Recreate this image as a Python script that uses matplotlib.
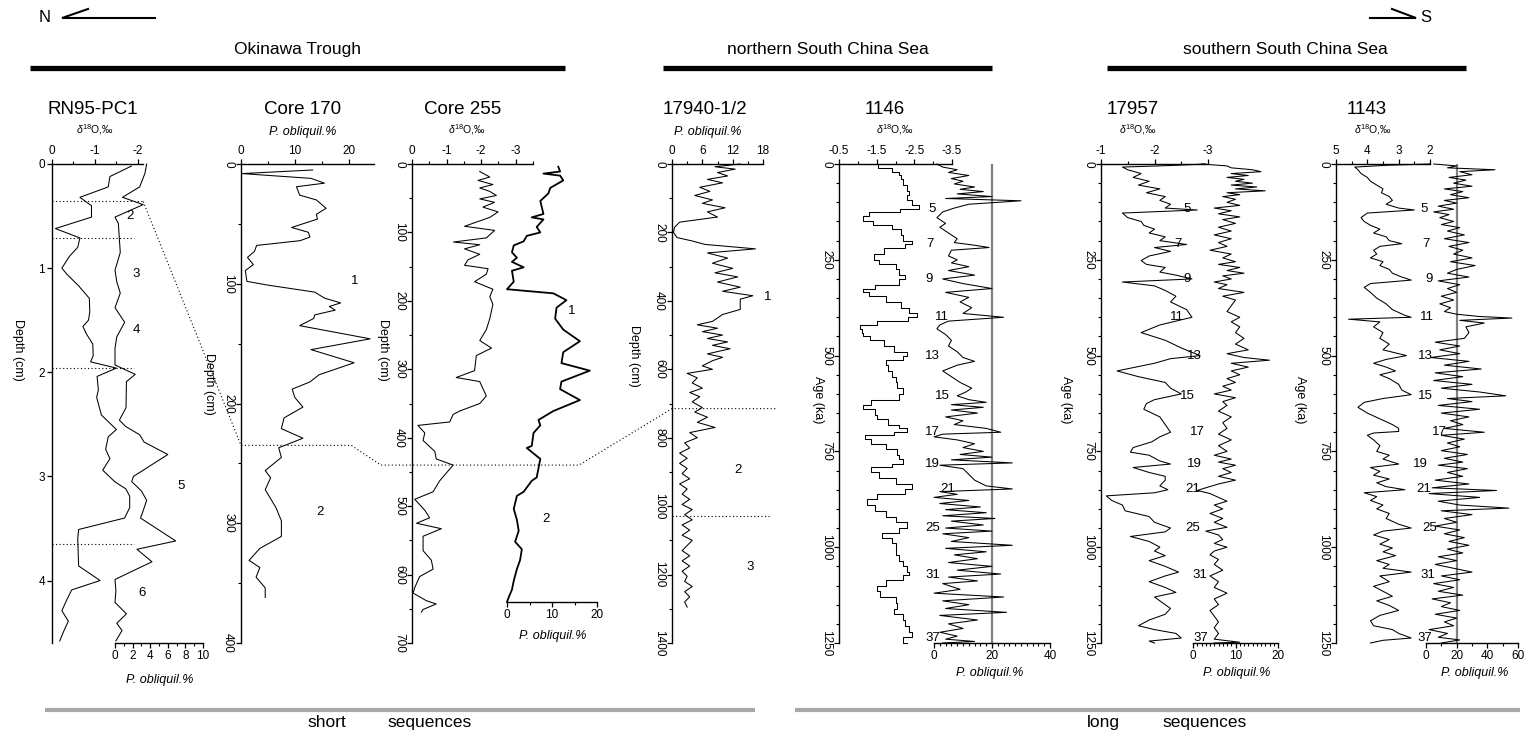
import matplotlib
matplotlib.use("Agg")
import matplotlib.pyplot as plt
from matplotlib import font_manager
from matplotlib.lines import Line2D

names = {f.name for f in font_manager.fontManager.ttflist}
MAIN = "Liberation Sans" if "Liberation Sans" in names else "DejaVu Sans"
NARROW = "Liberation Sans Narrow" if "Liberation Sans Narrow" in names else MAIN
plt.rcParams["font.family"] = [MAIN, "DejaVu Sans"]
plt.rcParams["axes.unicode_minus"] = False
plt.rcParams["mathtext.fontset"] = "custom"
plt.rcParams["mathtext.rm"] = MAIN
plt.rcParams["mathtext.it"] = MAIN + ":italic"

# ---------------- data ----------------
# RN95-PC1
rn95_d18o_depth = [0.02,0.12,0.22,0.32,0.40,0.51,0.62,0.71,0.80,0.89,1.00,1.06,1.17,1.29,1.42,1.50,1.56,1.63,1.73,1.84,1.90,1.96,2.04,2.17,2.24,2.41,2.55,2.62,2.74,2.83,2.94,3.05,3.12,3.19,3.30,3.40,3.51,3.60,3.86,4.00,4.09,4.18,4.29,4.39,4.49,4.58]
rn95_d18o = [-1.85,-1.35,-1.31,-0.65,-0.92,-0.92,-0.08,-0.65,-0.6,-0.4,-0.23,-0.35,-0.62,-0.87,-0.88,-0.85,-0.72,-0.8,-0.95,-0.96,-0.9,-1.5,-1.05,-1.08,-1.04,-1.15,-1.5,-1.31,-1.25,-1.35,-1.18,-1.46,-1.72,-1.81,-1.81,-1.69,-0.62,-0.6,-0.62,-1.12,-0.46,-0.35,-0.23,-0.38,-0.27,-0.18]
rn95_po_depth = [0.0,0.09,0.22,0.32,0.39,0.51,0.57,0.85,1.02,1.13,1.24,1.38,1.52,1.66,1.77,1.93,2.02,2.09,2.34,2.46,2.52,2.60,2.67,2.79,3.00,3.05,3.14,3.23,3.33,3.40,3.62,3.70,3.82,3.99,4.10,4.21,4.32,4.41,4.48,4.58]
rn95_po = [3.6,3.4,2.8,0.85,3.2,0.0,0.38,0.6,0.0,0.2,0.6,0.0,1.1,0.2,0.0,0.0,2.3,1.3,1.25,0.5,1.2,2.8,3.3,6.0,2.1,1.9,3.0,3.6,3.2,2.9,6.9,2.5,4.2,0.0,0.1,0.0,1.3,0.2,0.8,0.1]

# Core 170
c170_depth = [5,8,12,16,19,26,30,37,42,46,53,57,61,64,68,73,78,84,89,98,101,107,112,116,119,122,126,129,135,146,155,166,176,182,188,195,203,212,221,229,237,245,256,262,272,287,298,311,321,331,337,345,354,362]
c170_po = [13.3,0.2,13,15.5,10.3,10.9,14,15.8,14,14.2,9.4,12.5,12.8,11,2.9,2.5,1.2,2.3,0.8,1.1,4.8,13.7,15.5,18.5,16.4,17.5,13.7,13.5,10.9,24,13,21,14.5,12.8,9.5,10,11.5,8,7.5,11.5,7,7.5,4.5,5.5,4.5,6.5,7.5,7.5,3.5,1.5,3.5,2.8,4.5,4.5]

# Core 255
c255_d18o_depth = [11,19,24,30,35,40,46,51,56,63,70,78,91,97,108,114,118,124,132,140,148,153,161,172,183,194,205,226,242,258,269,280,302,312,318,328,339,350,361,366,377,382,393,404,420,431,440,463,479,490,506,517,525,533,544,565,579,592,603,619,627,638,643,651,655]
c255_d18o = [-1.96,-2.25,-1.91,-2.34,-1.96,-2.25,-2.44,-1.96,-2.39,-2.05,-2.49,-2.25,-1.52,-2.39,-2.15,-1.2,-1.96,-1.52,-1.96,-1.62,-1.52,-2.2,-2.15,-1.81,-2.34,-2.25,-2.34,-2.25,-2.15,-1.96,-2.3,-1.86,-1.81,-1.28,-1.96,-2.05,-2.15,-1.96,-1.38,-1.19,-1.09,-0.17,-0.37,-0.32,-0.66,-0.7,-1.19,-0.8,-0.61,-0.08,-0.37,-0.51,-0.13,-0.85,-0.32,-0.32,-0.56,-0.61,-0.22,-0.08,-0.03,-0.41,-0.7,-0.32,-0.27]
c255_po_depth = [4,11,14,17,24,35,43,54,73,78,81,92,100,105,113,119,129,137,143,151,156,172,183,189,199,210,226,242,259,275,291,302,318,329,345,361,374,382,393,412,415,431,458,463,479,485,504,520,536,552,563,579,592,609,622,633,640]
c255_po = [11.4,11.8,8.1,11.8,12.5,9.6,9.2,7.4,8.1,5.5,8.1,6.6,7.4,4.4,3.7,1.5,1.1,2.2,1.1,3.7,1.1,1.5,0.0,10.3,13.2,11.0,10.7,12.5,16.2,12.5,12.1,18.4,12.1,11.8,16.2,10.3,7.0,7.4,5.9,5.5,4.4,7.4,6.6,5.5,3.7,2.2,1.5,2.2,2.6,1.8,3.3,2.9,2.2,1.5,1.1,0.4,0.0]

# 17940-1/2
c17940_depth = [0,8,15,25,35,45,55,68,80,92,105,115,128,140,155,170,185,200,215,225,235,248,260,275,290,305,318,330,345,360,372,385,395,425,440,460,470,480,490,500,510,520,530,540,555,565,575,590,600,612,625,640,655,668,680,695,712,725,740,755,770,785,800,815,830,845,860,875,890,905,920,935,950,965,980,995,1010,1025,1040,1055,1070,1085,1100,1115,1130,1145,1160,1175,1190,1205,1220,1235,1250,1265,1280,1295]
c17940_po = [13.5,8.5,12.5,9,11,7,10,5.5,7.5,4.5,8,6,10.5,7,9,1.5,0.5,0.3,1,4,6.5,16.5,7,11,8,12,8.5,13,9,13.5,10,16,13.5,13.5,10,8,5,9,6,10,7,11,8,11.5,7,10,8,6,8,3,5,4,6,3.5,5.5,4,6,4.5,7,5,8.5,3.5,5,2.5,3.5,1.5,3,1.5,3,2,3.5,1.5,3,2,3.5,2,4,2.5,4,2,3.5,2,4,3,2,3.5,2,3.5,2,3,2.5,4,2.5,3.5,2.5,3]

# ODP 1146
s1146_age_d = [0,10,20,30,40,55,70,80,95,108,118,125,135,150,160,170,185,200,208,220,235,250,262,275,290,300,315,325,335,345,360,375,390,400,410,420,430,440,450,460,475,490,500,512,525,540,555,570,585,600,615,628,640,655,665,680,690,700,708,718,730,745,760,770,783,790,805,820,835,848,860,875,890,905,920,935,950,962,975,990,1005,1020,1035,1050,1065,1072,1085,1100,1115,1130,1145,1160,1175,1190,1205,1220,1235,1245,1250]
s1146_d18o = [-1.45,-1.6,-2.2,-2.0,-2.3,-2.1,-2.5,-2.2,-2.4,-2.5,-2.75,-1.5,-1.1,-1.2,-1.6,-2.2,-2.1,-2.3,-2.6,-1.9,-1.5,-1.35,-1.8,-2.2,-2.0,-2.5,-1.7,-1.2,-1.1,-1.5,-2.0,-2.3,-2.4,-2.75,-1.9,-1.1,-1.0,-1.2,-1.05,-1.6,-1.8,-2.1,-2.5,-1.9,-1.6,-2.0,-1.8,-2.2,-1.9,-2.5,-1.7,-1.0,-1.3,-1.6,-1.4,-2.2,-2.0,-2.6,-1.3,-1.1,-1.6,-1.9,-2.2,-2.0,-2.4,-1.4,-1.3,-1.8,-2.2,-2.7,-1.8,-1.2,-1.3,-1.6,-1.9,-2.1,-2.5,-1.7,-1.6,-2.2,-1.8,-2.2,-2.0,-2.4,-2.2,-2.5,-1.9,-1.6,-1.4,-1.8,-2.2,-1.9,-2.0,-2.4,-2.1,-2.6,-2.3,-2.1,-2.3]
s1146_age_p = [0,8,15,22,30,38,45,52,60,66,72,78,85,90,96,105,115,125,140,155,165,180,195,205,212,218,225,240,250,258,268,278,290,300,312,325,335,348,360,375,390,400,410,420,430,445,460,475,490,505,515,525,540,555,570,585,595,605,615,622,628,635,642,650,660,670,680,690,700,705,712,720,730,740,750,758,765,772,780,786,795,810,825,840,848,855,862,870,878,886,895,902,910,918,925,932,942,950,958,965,975,985,995,1003,1012,1020,1030,1040,1050,1060,1070,1078,1088,1095,1110,1120,1130,1140,1150,1160,1170,1178,1190,1200,1212,1222,1232,1240,1246,1250]
s1146_po = [1,3,8,5,12,6,10,7,14,9,17,8,20,4,30,12,7,3,1,4,2,5,8,7,14,19,6,5,8,6,12,5,14,3,10,20,4,12,9,13,10,24,5,2,1,4,6,5,8,10,14,8,3,6,9,13,11,8,12,18,6,17,6,15,4,10,7,18,23,3,0,8,14,10,17,9,20,6,27,2,10,12,14,18,27,2,8,0,12,2,16,4,18,3,21,6,17,4,20,3,12,6,27,4,18,7,15,5,20,8,23,5,15,3,9,0,24,3,12,4,25,2,15,5,10,2,8,4,14,3]

# 17957
s17957_age_d = [0,4,8,15,25,35,45,55,65,75,85,95,105,115,120,128,140,150,160,170,180,190,200,210,218,228,240,252,262,270,282,290,300,308,318,330,345,360,380,400,420,440,460,480,500,508,520,540,555,570,585,600,615,625,640,660,680,700,712,725,740,752,760,775,783,792,805,815,825,840,850,858,866,878,890,905,920,935,950,960,972,985,1000,1010,1022,1035,1050,1065,1075,1090,1105,1118,1130,1145,1160,1175,1190,1205,1215,1225,1237,1245,1250]
s17957_d18o = [-2.95,-2.3,-1.4,-1.5,-1.75,-1.6,-1.9,-1.7,-2.1,-1.85,-2.2,-2.1,-2.3,-2.2,-2.8,-1.4,-1.5,-1.75,-1.8,-2.0,-1.9,-2.2,-2.1,-2.6,-2.0,-2.3,-1.9,-1.75,-1.85,-2.2,-2.1,-2.4,-2.7,-1.4,-2.0,-2.2,-2.4,-2.3,-2.6,-2.7,-2.1,-1.75,-2.2,-2.5,-2.85,-2.3,-2.0,-1.3,-1.7,-2.2,-2.3,-2.5,-2.0,-1.85,-1.8,-2.1,-2.2,-2.3,-2.1,-1.95,-1.6,-1.55,-1.9,-2.1,-2.3,-1.6,-1.9,-2.2,-2.2,-2.1,-2.25,-2.0,-1.1,-1.2,-1.4,-1.45,-1.9,-2.0,-2.3,-2.2,-1.55,-1.9,-2.1,-2.0,-2.2,-1.9,-2.2,-2.45,-2.2,-1.9,-2.2,-2.4,-2.0,-2.15,-2.3,-2.2,-1.9,-1.7,-2.0,-2.4,-2.5,-1.9,-2.0]
s17957_age_p = [0,5,10,15,20,25,30,35,40,45,50,55,60,65,70,75,80,85,92,100,108,115,122,130,138,145,155,165,175,185,195,205,215,225,235,245,255,262,270,278,285,292,300,308,315,325,335,345,355,370,385,400,412,425,440,455,470,485,495,505,512,520,530,540,550,560,570,580,590,600,610,620,630,645,660,675,690,705,720,735,750,760,770,778,786,795,805,815,825,835,845,852,860,870,880,890,900,912,925,935,948,958,968,980,990,1000,1010,1020,1032,1045,1060,1075,1090,1105,1120,1135,1150,1165,1180,1195,1210,1225,1240,1248,1250]
s17957_po = [2,8,9,14,16,9,13,8,12,10,14,9,15,10,17,8,11,7,10,8,11,5,9,6,11,7,10,6,9,5,9,6,8,4,9,7,10,6,11,8,12,7,9,5,8,6,12,7,10,9,8,11,9,11,10,12,10,13,8,12,18,9,13,9,11,8,10,7,9,5,10,7,8,6,9,7,8,6,9,6,8,5,9,6,10,7,9,6,10,6,3,1,4,6,8,5,7,4,7,5,8,3,6,7,5,8,5,4,6,5,7,4,6,5,8,5,6,4,5,6,5,6,5,11,5]

# ODP 1143
s1143_age_d = [0,3,8,15,25,35,45,55,65,75,85,95,105,115,120,128,140,150,160,170,180,190,200,208,215,225,235,245,255,265,275,285,295,303,312,322,335,350,365,380,395,400,405,412,425,440,455,470,485,495,500,510,520,530,540,550,560,575,590,602,612,622,635,650,665,680,690,698,702,708,720,735,750,760,770,783,792,802,812,822,832,842,850,858,868,878,890,900,912,925,940,950,958,968,980,992,1002,1012,1022,1035,1045,1055,1065,1075,1090,1102,1115,1128,1140,1152,1165,1178,1192,1205,1215,1225,1237,1243,1250]
s1143_d18o = [2.0,3.3,4.4,4.3,4.2,4.0,3.9,3.7,3.5,3.55,3.3,3.2,3.4,3.0,2.5,4.0,4.2,4.1,3.9,3.6,3.8,3.4,3.3,2.9,3.6,3.8,3.7,3.9,3.5,3.6,3.3,3.2,2.9,2.6,3.9,4.1,3.9,3.7,3.4,3.2,2.8,2.6,4.6,3.6,3.8,3.5,3.6,3.3,3.5,3.0,2.75,3.4,3.8,3.4,3.1,3.6,3.3,3.0,2.9,2.6,3.5,4.1,4.3,4.0,3.6,3.2,3.0,3.0,3.8,4.0,3.8,3.6,3.7,3.3,3.5,3.0,3.9,3.6,3.8,3.3,3.7,3.4,2.8,4.1,3.7,3.9,3.5,3.7,3.3,3.4,3.0,2.6,3.5,3.8,3.3,3.6,3.2,3.5,3.1,3.7,3.3,3.5,2.6,3.6,3.3,3.8,3.5,3.2,3.7,3.3,3.0,3.6,3.9,3.8,3.2,3.0,2.6,3.5,3.9]
s1143_age_p = [0,5,10,15,20,28,35,42,50,58,65,72,80,88,95,102,110,118,125,132,140,150,158,166,175,185,195,205,215,225,235,245,255,265,275,285,295,305,315,325,335,345,355,365,375,385,392,398,402,408,415,425,440,455,465,475,485,495,505,515,525,535,545,555,565,575,585,595,605,612,620,630,640,650,660,670,680,690,700,708,718,728,738,748,758,768,778,786,795,805,815,825,835,845,852,860,870,880,890,898,905,915,925,935,945,955,965,975,985,995,1005,1015,1025,1035,1045,1055,1065,1075,1085,1095,1105,1115,1125,1135,1145,1155,1165,1175,1185,1195,1205,1215,1225,1235,1242,1250]
s1143_po = [5,20,14,45,22,30,15,26,18,30,12,24,16,28,12,20,8,18,5,15,9,18,10,22,14,25,12,28,15,24,18,30,16,32,20,14,28,8,22,14,20,10,18,9,16,12,20,35,56,22,38,26,28,25,6,22,9,22,3,28,12,36,6,24,5,30,10,35,52,14,30,8,35,10,28,16,24,12,38,10,25,14,22,10,27,12,24,8,27,14,24,6,28,4,46,2,35,8,22,54,10,30,12,20,6,22,12,25,15,28,14,24,8,20,6,18,30,10,22,5,18,8,24,4,16,10,22,6,20,12,18,2,14,8,22,10]

stage_labels = ["5","7","9","11","13","15","17","19","21","25","31","37"]
stage_ages = [117,208,300,400,500,605,700,783,848,950,1072,1237]

# ---------------- layout helpers ----------------
W, H = 1533, 737
fig = plt.figure(figsize=(W/100, H/100), dpi=100)
YT, YB = 164, 643
TICK = 8.5

def box(x0, x1, yt=YT, yb=YB):
    return [x0/W, 1 - yb/H, (x1 - x0)/W, (yb - yt)/H]

def ftext(x, y, s, **kw):
    kw.setdefault("ha", "center"); kw.setdefault("va", "center")
    return fig.text(x/W, 1 - y/H, s, **kw)

def make_top(x0, x1, xlim, xmaj, xmin, ymax, ymaj, ymin, rotate=True):
    ax = fig.add_axes(box(x0, x1))
    ax.set_xlim(*xlim); ax.set_ylim(ymax, 0)
    ax.patch.set_visible(False)
    ax.spines["right"].set_visible(False); ax.spines["bottom"].set_visible(False)
    for s in ("left", "top"):
        ax.spines[s].set_linewidth(1.0)
    ax.xaxis.set_ticks_position("top")
    ax.set_xticks(xmaj); ax.set_xticks(xmin, minor=True)
    ax.set_yticks(ymaj); ax.set_yticks(ymin, minor=True)
    ax.tick_params(which="major", length=3.5, width=0.9, labelsize=TICK, pad=1.5, direction="out")
    ax.tick_params(which="minor", length=2, width=0.8, direction="out")
    if rotate:
        for lab in ax.get_yticklabels():
            lab.set_rotation(270); lab.set_va("center")
    return ax

def make_bot(x0, x1, xlim, xmaj, xmin, ymax, yb=YB):
    ax = fig.add_axes(box(x0, x1, YT, yb))
    ax.set_xlim(*xlim); ax.set_ylim(ymax, 0)
    ax.patch.set_visible(False)
    for s in ("left", "right", "top"):
        ax.spines[s].set_visible(False)
    ax.spines["bottom"].set_linewidth(1.0)
    ax.set_yticks([])
    ax.set_xticks(xmaj); ax.set_xticks(xmin, minor=True)
    ax.tick_params(which="major", length=3.5, width=0.9, labelsize=TICK, pad=1.5, direction="out")
    ax.tick_params(which="minor", length=2, width=0.8, direction="out")
    return ax

LW = 0.75
D18 = r"$\delta^{18}$O,‰"
POB = "P. obliquil.%"

# ---------------- panel 1: RN95-PC1 ----------------
a1 = make_top(52, 143, (0, -2.12), [0, -1, -2], [-0.5, -1.5], 4.6, [0, 1, 2, 3, 4], [], rotate=False)
a1.plot(rn95_d18o, rn95_d18o_depth, color="black", lw=LW, clip_on=False)
b1 = make_bot(115, 203, (0, 10), [0, 2, 4, 6, 8, 10], [1, 3, 5, 7, 9], 4.6)
b1.plot(rn95_po, rn95_po_depth, color="black", lw=LW, clip_on=False)
for d, xe in [(0.36, 3.2), (0.71, 2.2), (1.96, 2.2), (3.65, 2.2)]:
    b1.plot([-7.2, xe], [d, d], color="black", lw=0.8, ls=(0, (1, 2.2)), clip_on=False)

# ---------------- panel 2: Core 170 ----------------
a2 = make_top(241, 374, (0, 24.7), [0, 10, 20], [5, 15], 400, [0, 100, 200, 300, 400], [50, 150, 250, 350])
a2.plot(c170_po, c170_depth, color="black", lw=LW, clip_on=False)

# ---------------- panel 3: Core 255 ----------------
a3 = make_top(412, 533, (0, -3.5), [0, -1, -2, -3], [-0.5, -1.5, -2.5, -3.5], 700,
              list(range(0, 701, 100)), list(range(50, 700, 100)))
a3.plot(c255_d18o, c255_d18o_depth, color="black", lw=LW, clip_on=False)
yb3 = YT + 640/700*(YB - YT)
b3 = make_bot(507, 597, (0, 20), [0, 10, 20], [5, 15], 640, yb=yb3)
b3.plot(c255_po, c255_po_depth, color="black", lw=1.3, clip_on=False)

# ---------------- panel 4: 17940 ----------------
a4 = make_top(672, 763, (0, 18), [0, 6, 12, 18], [3, 9, 15], 1400,
              list(range(0, 1401, 200)), list(range(100, 1400, 200)))
a4.plot(c17940_po, c17940_depth, color="black", lw=LW, clip_on=False)

# ---------------- panel 5: 1146 ----------------
agemaj = [0, 250, 500, 750, 1000, 1250]
agemin = [a for a in range(0, 1251, 50) if a % 250]
a5 = make_top(839, 952, (-0.5, -3.5), [-0.5, -1.5, -2.5, -3.5], [-1, -2, -3], 1250, agemaj, agemin)
a5.plot(s1146_d18o, s1146_age_d, color="black", lw=LW, drawstyle="steps-mid", clip_on=False)
b5 = make_bot(934, 1050, (0, 40), [0, 20, 40], list(range(2, 40, 2)), 1250)
b5.axvline(20, color="#808080", lw=1.6)
b5.plot(s1146_po, s1146_age_p, color="black", lw=LW, clip_on=False)

# ---------------- panel 6: 17957 ----------------
a6 = make_top(1101, 1208, (-1, -3), [-1, -2, -3], [-1.5, -2.5], 1250, agemaj, agemin)
a6.plot(s17957_d18o, s17957_age_d, color="black", lw=LW, clip_on=False)
b6 = make_bot(1193, 1278, (0, 20), [0, 10, 20], list(range(1, 20)), 1250)
b6.plot(s17957_po, s17957_age_p, color="black", lw=LW, clip_on=False)

# ---------------- panel 7: 1143 ----------------
a7 = make_top(1336, 1430, (5, 2), [5, 4, 3, 2], [4.5, 3.5, 2.5], 1250, agemaj, agemin)
a7.plot(s1143_d18o, s1143_age_d, color="black", lw=LW, clip_on=False)
b7 = make_bot(1426, 1518, (0, 60), [0, 20, 40, 60], [10, 30, 50], 1250)
b7.axvline(20, color="#808080", lw=1.6)
b7.plot(s1143_po, s1143_age_p, color="black", lw=LW, clip_on=False)

# ---------------- correlation (dotted) lines ----------------
def to_fig(ax, x, y):
    return fig.transFigure.inverted().transform(ax.transData.transform((x, y)))

def dotted(pts):
    xy = [to_fig(a, x, y) for a, x, y in pts]
    fig.add_artist(Line2D([p[0] for p in xy], [p[1] for p in xy], transform=fig.transFigure,
                          color="black", lw=0.8, ls=(0, (1, 2.2))))

dotted([(b1, 3.2, 0.36), (a2, 0, 235), (a2, 20.5, 235), (a3, 0.9, 440), (b3, 16, 440), (a4, 0, 715), (a4, 20.5, 715)])
dotted([(a4, 0, 1030), (a4, 19.5, 1030)])

# ---------------- titles & labels ----------------
TT = 13.5
for x, s in [(93, "RN95-PC1"), (303, "Core 170"), (463, "Core 255"), (705, "17940-1/2"),
             (885, "1146"), (1133, "17957"), (1367, "1143")]:
    ftext(x, 110, s, fontsize=TT)
for x, s in [(95, D18), (467, D18), (895, D18), (1138, D18), (1373, D18)]:
    ftext(x, 130, s, fontsize=7.5)
for x, y in [(303, 132), (708, 132)]:
    ftext(x, y, POB, fontsize=9, style="italic")
for x, y in [(160, 680), (553, 636), (990, 673), (1237, 673), (1475, 673)]:
    ftext(x, y, POB, fontsize=9, style="italic")
for x, y, s in [(18, 350, "Depth (cm)"), (209, 384, "Depth (cm)"), (383, 350, "Depth (cm)"),
                (634, 356, "Depth (cm)"), (818, 400, "Age (ka)"), (1066, 400, "Age (ka)"),
                (1300, 400, "Age (ka)")]:
    ftext(x, y, s, fontsize=9, rotation=270)

# stage numbers
AN = 9.5
for x, y, s in [(130, 216, "2"), (136, 274, "3"), (136, 330, "4"), (181, 486, "5"), (142, 593, "6"),
                (355, 281, "1"), (320, 512, "2"), (572, 311, "1"), (546, 519, "2"),
                (768, 297, "1"), (738, 470, "2"), (750, 567, "3")]:
    ftext(x, y, s, fontsize=AN)
px1146 = [928, 926, 925, 935, 925, 935, 925, 925, 940, 925, 925, 925]
px17957 = [1183, 1174, 1183, 1170, 1187, 1180, 1190, 1187, 1185, 1185, 1192, 1193]
px1143 = [1420, 1422, 1425, 1420, 1418, 1418, 1432, 1413, 1416, 1422, 1420, 1417]
for ax, pxs in [(a5, px1146), (a6, px17957), (a7, px1143)]:
    for lab, age, px in zip(stage_labels, stage_ages, pxs):
        y = fig.transFigure.transform(to_fig(ax, ax.get_xlim()[0], age))[1]
        ftext(px, H - y, lab, fontsize=AN, ha="left")

# ---------------- header / footer ----------------
def fline(xs, ys, **kw):
    fig.add_artist(Line2D([x/W for x in xs], [1 - y/H for y in ys], transform=fig.transFigure, **kw))

ftext(45, 17, "N", fontsize=12, family=NARROW)
fline([88, 62, 155], [9, 18, 18], color="black", lw=1.5, solid_joinstyle="miter")
ftext(1426, 17, "S", fontsize=12, family=NARROW)
fline([1370, 1416, 1392], [18, 18, 9], color="black", lw=1.5, solid_joinstyle="miter")

for xc, s, x0, x1 in [(298, "Okinawa Trough", 30, 565), (828, "northern South China Sea", 663, 992),
                      (1285, "southern South China Sea", 1107, 1466)]:
    ftext(xc, 54, s, fontsize=12.5, family=NARROW, va="baseline")
    fline([x0, x1], [68, 68], color="black", lw=3.8, solid_capstyle="butt")

fline([45, 755], [710, 710], color="#a8a8a8", lw=3.0, solid_capstyle="butt")
fline([795, 1520], [710, 710], color="#a8a8a8", lw=3.0, solid_capstyle="butt")
for x, s in [(327, "short"), (430, "sequences"), (1103, "long"), (1205, "sequences")]:
    ftext(x, 727, s, fontsize=12.5, family=NARROW, va="baseline")

fig.savefig("out.png", dpi=100)
